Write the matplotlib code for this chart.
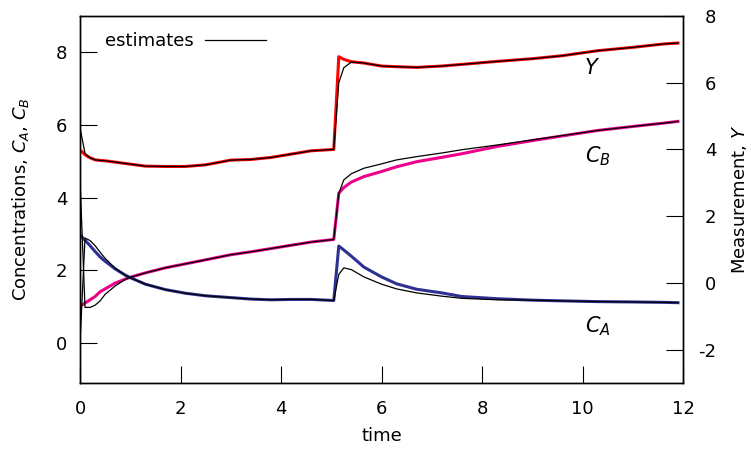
import matplotlib
matplotlib.use('Agg')
import matplotlib.pyplot as plt

plt.rcParams['font.family'] = ['DejaVu Sans']
plt.rcParams['mathtext.fontset'] = 'dejavusans'
plt.rcParams['axes.unicode_minus'] = False

# sample times
t = [0.0, 0.1, 0.2, 0.3, 0.4, 0.5, 0.7, 0.9, 1.0, 1.3, 1.7, 2.1, 2.5, 3.0, 3.4, 3.8, 4.2, 4.6,
     5.05, 5.15, 5.25, 5.4, 5.65, 6.0, 6.3, 6.7, 7.2, 7.6, 8.3, 9.0, 9.6, 10.3, 11.0, 11.6, 11.9]

# measurement Y (right axis)
y_meas = [3.99, 3.84, 3.75, 3.69, 3.67, 3.66, 3.62, 3.58, 3.56, 3.50, 3.49, 3.49, 3.54, 3.68, 3.70, 3.76, 3.86, 3.96,
          4.00, 6.78, 6.70, 6.63, 6.59, 6.50, 6.48, 6.46, 6.50, 6.55, 6.64, 6.72, 6.81, 6.96, 7.06, 7.16, 7.19]
y_est = [4.65, 3.88, 3.75, 3.69, 3.67, 3.66, 3.62, 3.58, 3.56, 3.50, 3.49, 3.49, 3.54, 3.68, 3.70, 3.76, 3.86, 3.96,
         4.00, 6.00, 6.45, 6.62, 6.59, 6.50, 6.48, 6.46, 6.50, 6.55, 6.64, 6.72, 6.81, 6.96, 7.06, 7.16, 7.19]

# concentrations (left axis)
cb = [1.01, 1.10, 1.19, 1.28, 1.41, 1.49, 1.65, 1.76, 1.81, 1.93, 2.07, 2.18, 2.29, 2.43, 2.51, 2.60, 2.69, 2.78,
      2.85, 4.12, 4.28, 4.43, 4.58, 4.72, 4.85, 4.99, 5.11, 5.21, 5.41, 5.57, 5.70, 5.85, 5.96, 6.05, 6.10]
cb_est = [4.50, 0.98, 0.98, 1.04, 1.16, 1.34, 1.57, 1.75, 1.81, 1.93, 2.07, 2.18, 2.29, 2.43, 2.51, 2.60, 2.69, 2.78,
          2.85, 4.12, 4.49, 4.66, 4.81, 4.93, 5.04, 5.13, 5.23, 5.32, 5.45, 5.59, 5.71, 5.85, 5.96, 6.05, 6.10]
ca = [2.98, 2.83, 2.68, 2.52, 2.37, 2.25, 2.04, 1.87, 1.80, 1.62, 1.47, 1.37, 1.30, 1.25, 1.21, 1.19, 1.20, 1.20,
      1.17, 2.67, 2.56, 2.39, 2.09, 1.82, 1.63, 1.48, 1.38, 1.28, 1.22, 1.18, 1.16, 1.14, 1.13, 1.12, 1.11]
ca_est = [0.00, 2.89, 2.82, 2.68, 2.50, 2.33, 2.06, 1.86, 1.80, 1.62, 1.47, 1.37, 1.30, 1.25, 1.21, 1.19, 1.20, 1.20,
          1.17, 1.89, 2.07, 2.02, 1.82, 1.62, 1.49, 1.38, 1.29, 1.23, 1.19, 1.18, 1.16, 1.14, 1.13, 1.12, 1.11]

fs = 13
fig = plt.figure(figsize=(7.51, 4.49), dpi=100)
ax = fig.add_axes([80/751, 1-383/449, 603/751, 367/449])

ax.plot(t, cb, color='#ec008c', lw=2.2)
ax.plot(t, ca, color='#2e3192', lw=2.2)
ax.plot(t, cb_est, color='black', lw=0.9)
ax.plot(t, ca_est, color='black', lw=0.9, label='estimates')

ax.set_xlim(0, 12)
ax.set_ylim(-1.1, 9.0)
ax.set_xticks([0, 2, 4, 6, 8, 10, 12])
ax.set_yticks([0, 2, 4, 6, 8])
ax.tick_params(direction='in', length=12, width=0.8, labelsize=fs, top=False, right=False)
ax.tick_params(axis='x', pad=12)
ax.tick_params(axis='y', pad=9)
ax.set_xlabel('time', fontsize=fs, labelpad=7)
ax.set_ylabel('Concentrations, $C_A$, $C_B$', fontsize=fs, labelpad=18)

ax.text(10.2, 7.58, '$Y$', fontsize=fs + 2, ha='center', va='center')
ax.text(10.3, 5.13, '$C_B$', fontsize=fs + 2, ha='center', va='center')
ax.text(10.3, 0.45, '$C_A$', fontsize=fs + 2, ha='center', va='center')

ax2 = ax.twinx()
ax2.plot(t, y_meas, color='#ff0000', lw=2.2)
ax2.plot(t, y_est, color='black', lw=0.9)
ax2.set_ylim(-3, 8)
ax2.set_yticks([-2, 0, 2, 4, 6, 8])
ax2.tick_params(direction='in', length=12, width=0.8, labelsize=fs, pad=24)
for lab in ax2.get_yticklabels():
    lab.set_horizontalalignment('right')
ax2.set_ylabel('Measurement, $Y$', fontsize=fs, labelpad=10)

for a in (ax, ax2):
    for s in a.spines.values():
        s.set_linewidth(1.0)

ax.legend(loc='upper left', bbox_to_anchor=(0.015, 1.0), frameon=False, markerfirst=False,
          fontsize=fs, handlelength=3.4, handletextpad=0.6)

fig.savefig('out.png', dpi=100)
